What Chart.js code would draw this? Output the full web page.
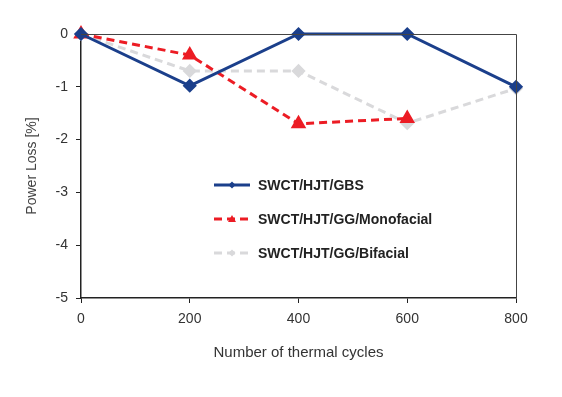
<!DOCTYPE html>
<html>
<head>
<meta charset="utf-8">
<script src="https://cdn.jsdelivr.net/npm/chart.js@4.4.1/dist/chart.umd.min.js"></script>
<style>
  html, body { margin: 0; padding: 0; background: #fff; }
  #wrap { width: 562px; height: 397px; }
</style>
</head>
<body>
<div id="wrap"><canvas id="myChart" width="562" height="397"></canvas></div>
<script>
const cycles = [0, 200, 400, 600, 800];
const gbsLoss = [0, -0.98, 0, 0, -1.0];
const monoLoss = [0, -0.4, -1.7, -1.6, null];
const bifacialLoss = [0, -0.7, -0.7, -1.69, -1.03];
const yTicks = [0, -1, -2, -3, -4, -5];

const seriesNames = [
  "SWCT/HJT/GBS",
  "SWCT/HJT/GG/Monofacial",
  "SWCT/HJT/GG/Bifacial",
];

const toPoints = (values) =>
  values.map((v, i) => ({ x: cycles[i], y: v }));

// box on top and right + legend drawn inside the plot
const frameAndLegend = {
  id: "frameAndLegend",
  afterDraw(chart) {
    const { ctx, chartArea } = chart;
    ctx.save();
    ctx.strokeStyle = "#444";
    ctx.lineWidth = 1;
    ctx.beginPath();
    ctx.moveTo(chartArea.left, chartArea.top + 0.5);
    ctx.lineTo(chartArea.right + 0.5, chartArea.top + 0.5);
    ctx.lineTo(chartArea.right + 0.5, chartArea.bottom);
    ctx.stroke();

    const rows = [185, 219, 253];
    chart.data.datasets.forEach((ds, i) => {
      const y = rows[i];
      ctx.strokeStyle = ds.borderColor;
      ctx.lineWidth = 3;
      ctx.setLineDash(ds.borderDash || []);
      ctx.beginPath();
      ctx.moveTo(214, y);
      ctx.lineTo(250, y);
      ctx.stroke();
      ctx.setLineDash([]);
      ctx.fillStyle = ds.borderColor;
      ctx.beginPath();
      if (ds.pointStyle === "triangle") {
        ctx.moveTo(232, y - 4);
        ctx.lineTo(236, y + 3);
        ctx.lineTo(228, y + 3);
      } else {
        ctx.moveTo(232, y - 3.5);
        ctx.lineTo(235.5, y);
        ctx.lineTo(232, y + 3.5);
        ctx.lineTo(228.5, y);
      }
      ctx.closePath();
      ctx.fill();
      ctx.fillStyle = "#222";
      ctx.font = "bold 14px 'Liberation Sans', Arial, sans-serif";
      ctx.textBaseline = "middle";
      ctx.fillText(seriesNames[i], 258, y + 1);
    });
    ctx.restore();
  },
};

const drawChart = () => {
  const ctx = document.getElementById("myChart").getContext("2d");
  const config = {
    type: "line",
    data: {
      datasets: [
        {
          label: seriesNames[0],
          data: toPoints(gbsLoss),
          borderColor: "#1b3f8b",
          backgroundColor: "#1b3f8b",
          borderWidth: 3,
          pointStyle: "rectRot",
          pointRadius: 5,
          pointHoverRadius: 5,
          clip: false,
        },
        {
          label: seriesNames[1],
          data: toPoints(monoLoss),
          borderColor: "#ec1c24",
          backgroundColor: "#ec1c24",
          borderWidth: 3,
          borderDash: [8, 5],
          pointStyle: "triangle",
          pointRadius: 6,
          pointHoverRadius: 6,
          clip: false,
        },
        {
          label: seriesNames[2],
          data: toPoints(bifacialLoss),
          borderColor: "#d9d9db",
          backgroundColor: "#d9d9db",
          borderWidth: 3,
          borderDash: [8, 5],
          pointStyle: "rectRot",
          pointRadius: 5,
          pointHoverRadius: 5,
          clip: false,
        },
      ],
    },
    plugins: [frameAndLegend],
    options: {
      responsive: false,
      animation: false,
      layout: { padding: { top: 34, right: 46, bottom: 19, left: 0 } },
      plugins: {
        legend: { display: false },
        tooltip: { enabled: false },
      },
      scales: {
        x: {
          type: "linear",
          min: 0,
          max: 800,
          afterBuildTicks: (axis) => {
            axis.ticks = cycles.map((v) => ({ value: v }));
          },
          afterFit: (axis) => {
            axis.height = 80;
          },
          grid: {
            drawOnChartArea: false,
            drawTicks: true,
            tickLength: 5,
            color: "#222",
          },
          border: { color: "#222", width: 1.5 },
          ticks: {
            color: "#333",
            font: { family: "'Liberation Sans', Arial, sans-serif", size: 14 },
            padding: 8,
          },
          title: {
            display: true,
            text: "Number of thermal cycles",
            color: "#333",
            font: { family: "'Liberation Sans', Arial, sans-serif", size: 15 },
            padding: { top: 4, bottom: 16 },
          },
        },
        y: {
          min: -5,
          max: 0,
          afterBuildTicks: (axis) => {
            axis.ticks = yTicks.map((v) => ({ value: v }));
          },
          afterFit: (axis) => {
            axis.width = 81;
          },
          grid: {
            drawOnChartArea: false,
            drawTicks: true,
            tickLength: 5,
            color: "#222",
          },
          border: { color: "#222", width: 1.5 },
          ticks: {
            color: "#333",
            font: { family: "'Liberation Sans', Arial, sans-serif", size: 14 },
            padding: 8,
          },
          title: {
            display: true,
            text: "Power Loss [%]",
            color: "#444",
            font: { family: "'Liberation Sans', Arial, sans-serif", size: 14 },
            padding: { top: 24, bottom: 0 },
          },
        },
      },
    },
  };
  new Chart(ctx, config);
};

document.addEventListener("DOMContentLoaded", drawChart);
</script>
</body>
</html>
